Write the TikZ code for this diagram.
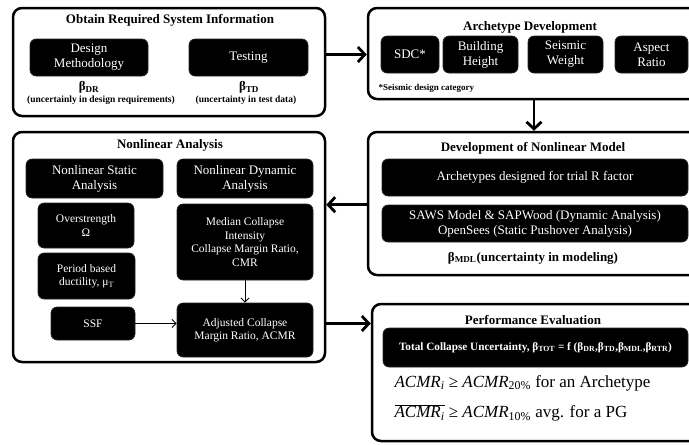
\documentclass[tikz,border=0pt]{standalone}
\usepackage{fontspec}
\setmainfont{Liberation Serif}
\usetikzlibrary{arrows.meta,calc}

\tikzset{
  outerbox/.style={draw=black, line width=2.5pt, rounded corners=9pt, fill=white, inner sep=0pt},
  blackbox/.style={fill=black, draw=black!85, line width=0.6pt, rounded corners=6pt,
                   text=white, align=center, inner sep=1pt},
  bigtxt/.style={font=\fontsize{13}{15}\selectfont},
  smalltxt/.style={font=\fontsize{11.5}{13.5}\selectfont},
  boxtitle/.style={font=\fontsize{13}{15}\selectfont\bfseries},
  betalbl/.style={font=\fontsize{13}{15}\selectfont\bfseries},
  notelbl/.style={font=\fontsize{9.5}{11}\selectfont\bfseries},
  crit/.style={anchor=west, font=\fontsize{17}{20}\selectfont},
  flowarrow/.style={line width=2.8pt, -{Straight Barb[length=7pt,width=15pt]}},
  thinarrow/.style={line width=1pt, -{Straight Barb[length=4pt,width=8pt]}},
}
\newcommand{\acmrvar}{\textit{ACMR}\textsubscript{\textit{i}}}

\begin{document}
\begin{tikzpicture}[x=1pt,y=-1pt]
\clip (0,0) rectangle (689,445);
\fill[white] (0,0) rectangle (689,445);

% ---- Obtain required system information ----
\node[outerbox, minimum width=312pt, minimum height=108pt] (obtain) at (169,62) {};
\node[boxtitle] (t1) at (170,20) {Obtain Required System Information};
\node[blackbox, bigtxt, minimum width=118pt, minimum height=37pt] (design) at (89,57.5) {Design\\Methodology};
\node[blackbox, bigtxt, minimum width=119pt, minimum height=37pt] (testing) at (248.5,57.5) {Testing};
\node[betalbl] (bdr) at (89,87) {β\textsubscript{DR}};
\node[notelbl] (udr) at (101,100) {(uncertainly in design requirements)};
\node[betalbl] (btd) at (249,87) {β\textsubscript{TD}};
\node[notelbl] (utd) at (246,100) {(uncertainty in test data)};

% ---- Archetype development ----
\node[outerbox, minimum width=332pt, minimum height=91pt] (arche) at (534,53.5) {};
\node[boxtitle] (t2) at (530,27) {Archetype Development};
\node[blackbox, bigtxt, minimum width=58pt, minimum height=37pt] (sdc) at (410,54.5) {SDC*};
\node[blackbox, bigtxt, minimum width=75pt, minimum height=37pt] (height) at (480.5,54.5) {Building\\Height};
\node[blackbox, bigtxt, minimum width=75pt, minimum height=37pt] (weight) at (565.5,54.5) {Seismic\\Weight};
\node[blackbox, bigtxt, minimum width=73pt, minimum height=37pt] (aspect) at (651.5,54.5) {Aspect\\Ratio};
\node[anchor=west, font=\fontsize{9}{11}\selectfont\bfseries] (sdcnote) at (375,88) {*Seismic design category};

% ---- Development of nonlinear model ----
\node[outerbox, minimum width=332pt, minimum height=143pt] (devel) at (534,203.5) {};
\node[boxtitle] (t3) at (533,148) {Development of Nonlinear Model};
\node[blackbox, bigtxt, minimum width=306pt, minimum height=37pt] (trial) at (535,177.5) {Archetypes designed for trial R factor};
\node[blackbox, bigtxt, minimum width=306pt, minimum height=37pt] (saws) at (535,223.5) {SAWS Model \& SAPWood (Dynamic Analysis)\\OpenSees (Static Pushover Analysis)};
\node[betalbl] (bmdl) at (533,258) {β\textsubscript{MDL}(uncertainty in modeling)};

% ---- Nonlinear analysis ----
\node[outerbox, minimum width=312pt, minimum height=230pt] (nonlin) at (169,247) {};
\node[boxtitle] (t4) at (170,145) {Nonlinear Analysis};
\node[blackbox, bigtxt, minimum width=137pt, minimum height=39pt] (nsa) at (94.5,178.5) {Nonlinear Static\\Analysis};
\node[blackbox, bigtxt, minimum width=136pt, minimum height=39pt] (nda) at (245,178.5) {Nonlinear Dynamic\\Analysis};
\node[blackbox, smalltxt, minimum width=96pt, minimum height=45pt] (omega) at (86,225.5) {Overstrength\\Ω};
\node[blackbox, smalltxt, minimum width=97pt, minimum height=46pt] (period) at (86.5,276) {Period based\\ductility, μ\textsubscript{T}};
\node[blackbox, smalltxt, minimum width=84pt, minimum height=33pt] (ssf) at (93,323.5) {SSF};
\node[blackbox, smalltxt, minimum width=136pt, minimum height=76pt] (median) at (245,242) {Median Collapse\\Intensity\\Collapse Margin Ratio,\\CMR};
\node[blackbox, smalltxt, minimum width=136pt, minimum height=54pt] (acmr) at (245,330) {Adjusted Collapse\\Margin Ratio, ACMR};

% ---- Performance evaluation ----
\node[outerbox, minimum width=328pt, minimum height=137pt] (perf) at (536,372.5) {};
\node[boxtitle] (t5) at (533,320) {Performance Evaluation};
\node[blackbox, font=\fontsize{11.2}{13}\selectfont\bfseries, minimum width=305pt, minimum height=39pt] (tcu) at (535.5,347.5)
  {Total Collapse Uncertainty, β\textsubscript{TOT} = f (β\textsubscript{DR},β\textsubscript{TD},β\textsubscript{MDL},β\textsubscript{RTR})};
\node[crit] (crit1) at (391,383)
  {\acmrvar{} ≥ \textit{ACMR}\textsubscript{20\%} for an Archetype};
\node[crit] (crit2) at (391,413)
  {$\overline{\hbox{\acmrvar}}$ ≥ \textit{ACMR}\textsubscript{10\%} avg. for a PG};

% ---- Connectors ----
\draw[flowarrow] (obtain.east |- sdc) -- (arche.west |- sdc);
\draw[flowarrow] (arche.south) -- (devel.north);
\draw[flowarrow] (devel.west |- saws.north) -- (nonlin.east |- saws.north);
\draw[flowarrow] (nonlin.east |- ssf) -- (perf.west |- ssf);
\draw[thinarrow] (median.south) -- (acmr.north);
\draw[thinarrow] (ssf.east) -- (ssf.east -| acmr.west);
\end{tikzpicture}
\end{document}
